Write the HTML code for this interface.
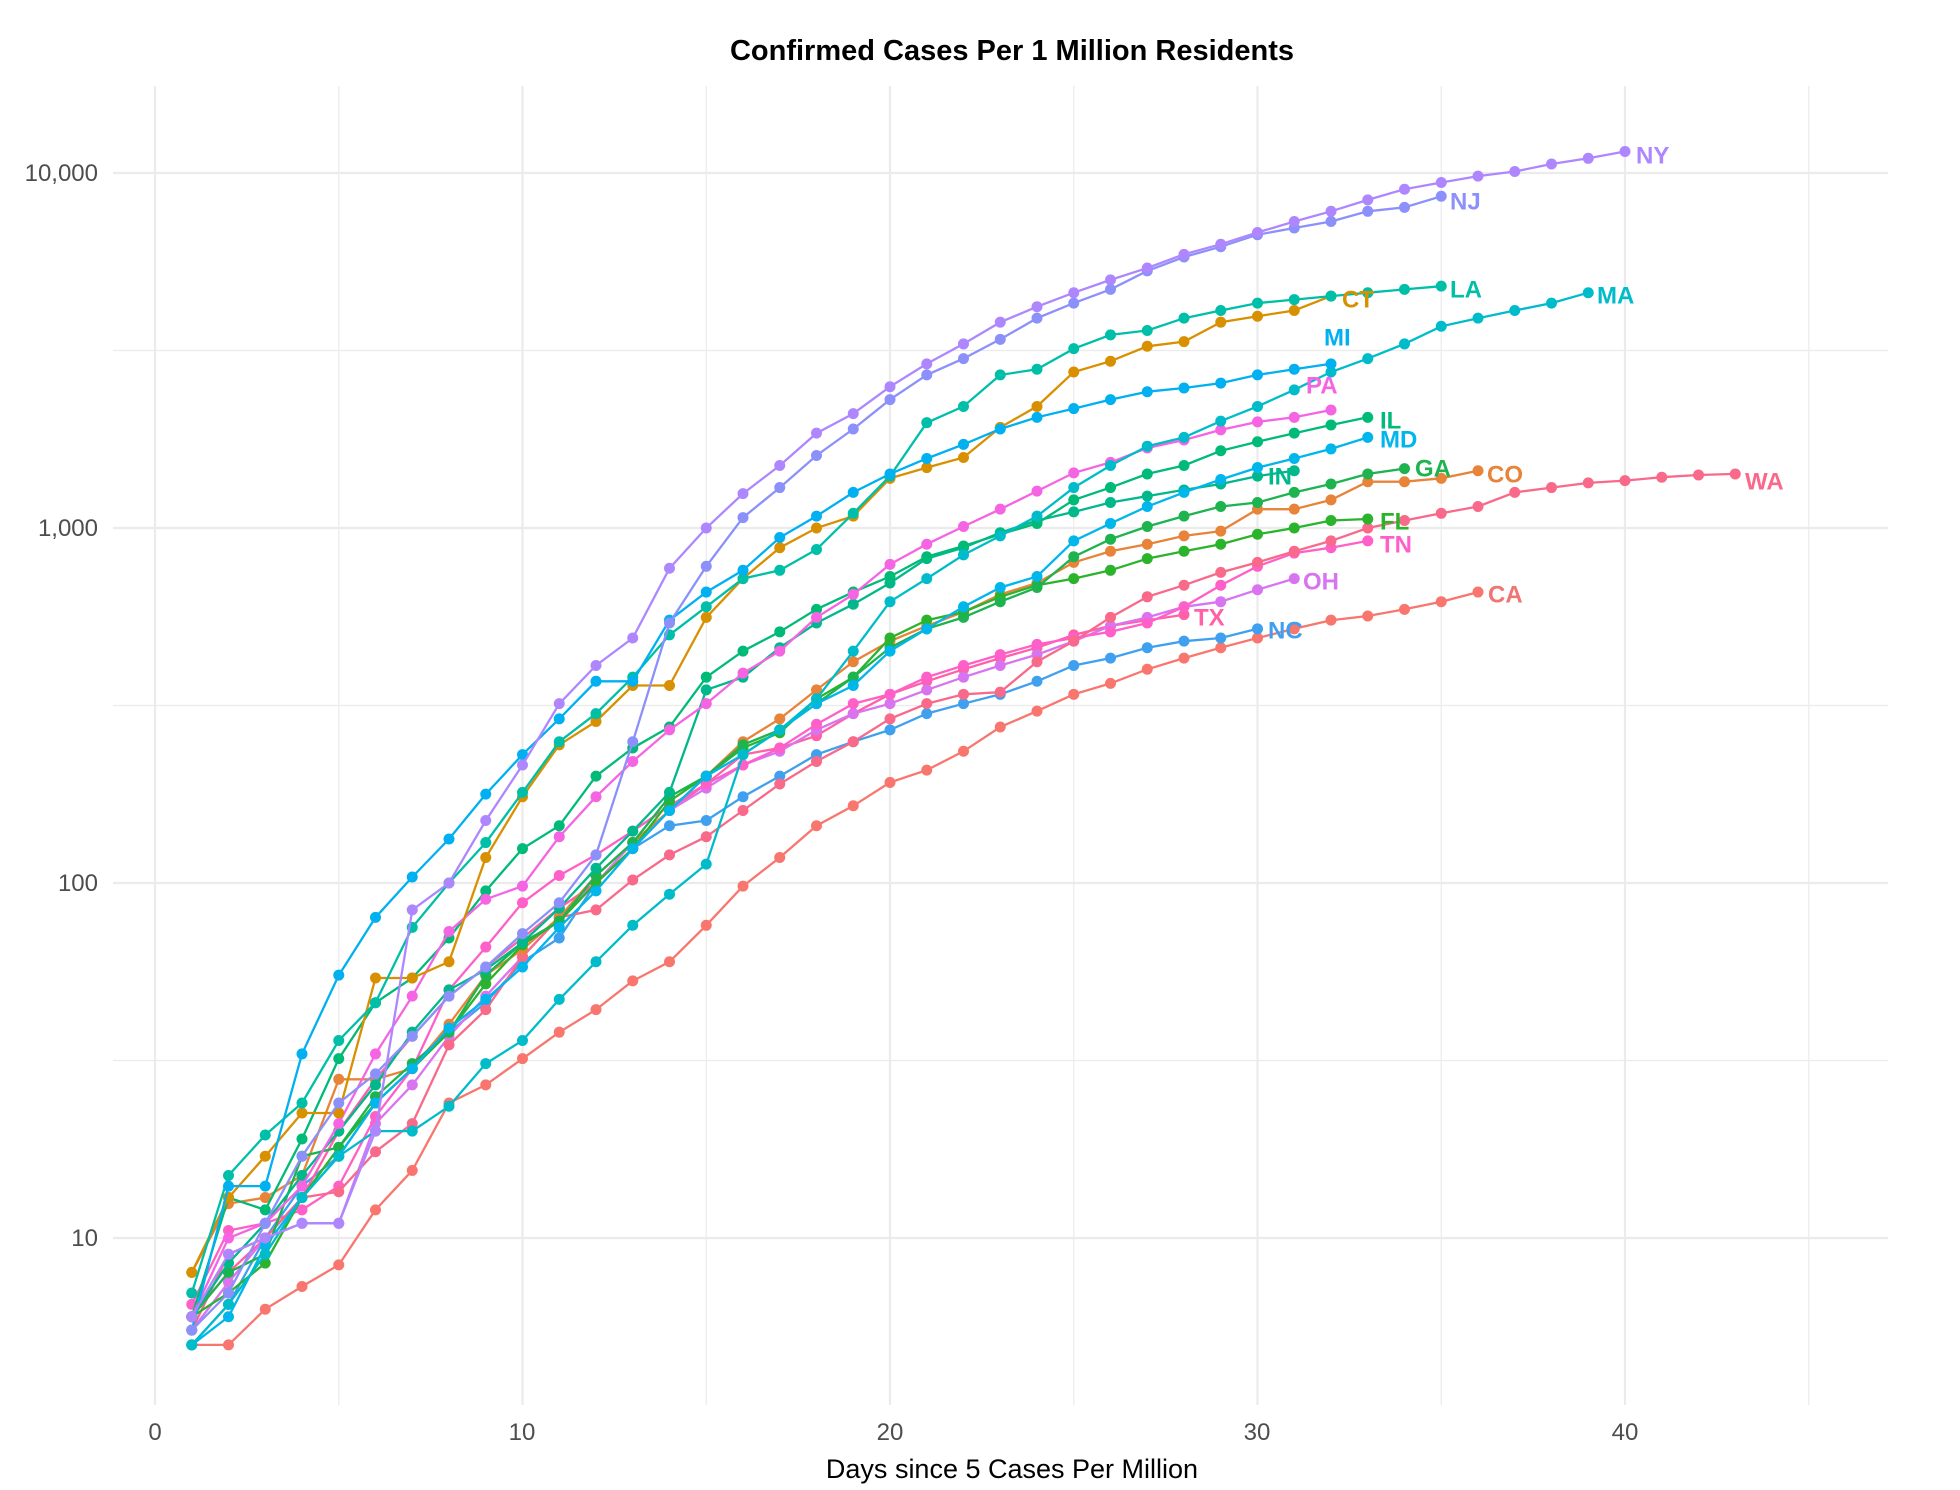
<!DOCTYPE html>
<html><head><meta charset="utf-8"><style>
html,body{margin:0;padding:0;background:#fff;}
svg{display:block;font-family:"Liberation Sans",sans-serif;}
.lab{font-weight:bold;font-size:24px;dominant-baseline:central;}
.tk{font-size:24px;fill:#4d4d4d;}
</style></head><body>
<svg id="s" width="1960" height="1490" viewBox="0 0 1960 1490" xmlns="http://www.w3.org/2000/svg">
<rect width="1960" height="1490" fill="#fff"/>
<g id="grid" stroke="#ebebeb" fill="none"></g>
<g id="series"></g>
<text x="1012" y="60" text-anchor="middle" font-weight="bold" font-size="29" fill="#000">Confirmed Cases Per 1 Million Residents</text>
<text x="1012" y="1478" text-anchor="middle" font-size="27" fill="#000">Days since 5 Cases Per Million</text>
<g class="tk" text-anchor="end">
<text x="98" y="181">10,000</text>
<text x="98" y="536">1,000</text>
<text x="98" y="891">100</text>
<text x="98" y="1246">10</text>
</g>
<g class="tk" text-anchor="middle">
<text x="155" y="1440">0</text>
<text x="522" y="1440">10</text>
<text x="890" y="1440">20</text>
<text x="1257" y="1440">30</text>
<text x="1625" y="1440">40</text>
</g>
<g class="lab">
<text x="1636" y="156" fill="#AE87FF">NY</text>
<text x="1450" y="202" fill="#8C90FA">NJ</text>
<text x="1450" y="290" fill="#00BFA8">LA</text>
<text x="1597" y="296" fill="#00BCCB">MA</text>
<text x="1342" y="300" fill="#D89000">CT</text>
<text x="1324" y="338" fill="#00B0F0">MI</text>
<text x="1306" y="386" fill="#F564E3">PA</text>
<text x="1380" y="421" fill="#00BA78">IL</text>
<text x="1380" y="440" fill="#00B6EB">MD</text>
<text x="1268" y="477" fill="#00B88C">IN</text>
<text x="1415" y="469" fill="#1DB34F">GA</text>
<text x="1487" y="475" fill="#E8843A">CO</text>
<text x="1745" y="482" fill="#F8698A">WA</text>
<text x="1380" y="522" fill="#2CB32C">FL</text>
<text x="1380" y="545" fill="#FF5FC8">TN</text>
<text x="1303" y="582" fill="#D974F0">OH</text>
<text x="1488" y="595" fill="#F07470">CA</text>
<text x="1194" y="618" fill="#FF60A8">TX</text>
<text x="1268" y="631" fill="#3FA0F0">NC</text>
</g>
</svg>
<script>
(function(){
var NS="http://www.w3.org/2000/svg";
function X(d){return 155+36.75*d;}
function Y(v){return 1238-355*Math.log10(v/10);}
var g=document.getElementById('grid');
function ln(x1,y1,x2,y2,w){var l=document.createElementNS(NS,'line');l.setAttribute('x1',x1);l.setAttribute('y1',y1);l.setAttribute('x2',x2);l.setAttribute('y2',y2);l.setAttribute('stroke-width',w);g.appendChild(l);}
for(var d=0;d<=45;d+=5){ln(X(d),86,X(d),1405,d%10==0?2.2:1.2);}
[10,100,1000,10000].forEach(function(v){ln(113,Y(v),1888,Y(v),2.2);});
[31.62,316.2,3162].forEach(function(v){ln(113,Y(v),1888,Y(v),1.2);});
var S=[
["#F8766D",{1:5,2:5,3:6.3,4:7.3,5:8.4,6:12,7:15.5,8:24,9:27,10:32,11:38,12:44,13:53,14:60,15:76,16:98,17:118,18:145,19:165,20:192,21:208,22:235,23:275,24:305,25:340,26:365,27:400,28:430,29:460,30:490,31:520,32:550,33:565,34:590,35:620,36:660}],
["#3FA0F0",{1:5,2:6.5,3:10,4:14,5:17,6:24,7:30,8:38,9:46,10:60,11:70,12:100,13:125,14:145,15:150,16:175,17:200,18:230,19:250,20:270,21:300,22:320,23:340,24:370,25:410,26:430,27:460,28:480,29:490,30:520}],
["#FF60A8",{1:6,2:8,3:10,4:13,5:20,6:28,7:37,8:48,9:58,10:70,11:85,12:100,13:125,14:160,15:190,16:230,17:240,18:260,19:300,20:340,21:370,22:400,23:430,24:460,25:500,26:530,27:550,28:570}],
["#D974F0",{1:5.5,2:7.5,3:10,4:11,5:11,6:21,7:27,8:37,9:48,10:62,11:80,12:100,13:130,14:160,15:185,16:215,17:235,18:270,19:300,20:320,21:350,22:380,23:410,24:440,25:480,26:530,27:560,28:600,29:620,30:670,31:720}],
["#FF5FC8",{1:6.5,2:10.5,3:11,4:12,5:14,6:22,7:30,8:50,9:66,10:88,11:105,12:120,13:140,14:165,15:190,16:215,17:240,18:280,19:320,20:340,21:380,22:410,23:440,24:470,25:490,26:510,27:540,28:600,29:690,30:780,31:850,32:880,33:920}],
["#F8698A",{1:5.5,2:9,3:10,4:13,5:13.5,6:17.5,7:21,8:35,9:44,10:62,11:80,12:84,13:102,14:120,15:135,16:160,17:190,18:220,19:250,20:290,21:320,22:340,23:345,24:420,25:480,26:560,27:640,28:690,29:750,30:800,31:860,32:920,33:1000,34:1050,35:1100,36:1150,37:1260,38:1300,39:1340,40:1360,41:1390,42:1410,43:1420}],
["#E8843A",{1:8,2:12.5,3:13,4:15,5:28,6:28,7:30,8:40,9:55,10:65,11:80,12:105,13:130,14:160,15:200,16:250,17:290,18:350,19:420,20:480,21:530,22:580,23:650,24:700,25:800,26:860,27:900,28:950,29:980,30:1130,31:1130,32:1200,33:1350,34:1350,35:1380,36:1450}],
["#2CB32C",{1:6,2:7,3:8.5,4:13,5:18,6:24,7:30,8:38,9:52,10:67,11:78,12:100,13:125,14:170,15:200,16:240,17:265,18:330,19:380,20:490,21:550,22:580,23:640,24:690,25:720,26:760,27:820,28:860,29:900,30:960,31:1000,32:1050,33:1060}],
["#1DB34F",{1:6,2:8,3:9,4:17,5:18,6:25,7:31,8:38,9:55,10:68,11:78,12:105,13:130,14:175,15:200,16:245,17:270,18:320,19:380,20:460,21:520,22:560,23:620,24:680,25:830,26:930,27:1010,28:1080,29:1150,30:1180,31:1260,32:1330,33:1420,34:1470}],
["#00B88C",{1:6,2:8.5,3:11,4:15,5:20,6:27,7:38,8:50,9:57,10:68,11:85,12:110,13:140,14:180,15:350,16:380,17:460,18:540,19:610,20:700,21:820,22:880,23:970,24:1050,25:1110,26:1180,27:1230,28:1280,29:1330,30:1400,31:1450}],
["#00BA78",{1:6,2:13,3:12,4:19,5:32,6:46,7:54,8:70,9:95,10:125,11:145,12:200,13:240,14:275,15:380,16:450,17:510,18:590,19:660,20:730,21:830,22:890,23:960,24:1030,25:1200,26:1300,27:1420,28:1500,29:1650,30:1750,31:1850,32:1950,33:2050}],
["#00B6EB",{1:5,2:6,3:9.5,4:13,5:17,6:24,7:30,8:39,9:47,10:58,11:75,12:95,13:125,14:160,15:200,16:230,17:270,18:320,19:360,20:450,21:520,22:600,23:680,24:730,25:920,26:1030,27:1150,28:1260,29:1370,30:1480,31:1570,32:1670,33:1800}],
["#F564E3",{1:6,2:10,3:11,4:14,5:21,6:33,7:48,8:73,9:90,10:98,11:135,12:175,13:220,14:270,15:320,16:390,17:450,18:560,19:650,20:790,21:900,22:1010,23:1130,24:1270,25:1430,26:1530,27:1680,28:1770,29:1890,30:1990,31:2050,32:2150}],
["#00BCCB",{1:5,2:6.5,3:9,4:13,5:17,6:20,7:20,8:23.5,9:31,10:36,11:47,12:60,13:76,14:93,15:113,16:230,17:270,18:330,19:450,20:620,21:720,22:840,23:950,24:1080,25:1300,26:1500,27:1700,28:1800,29:2000,30:2200,31:2450,32:2750,33:3000,34:3300,35:3700,36:3900,37:4100,38:4300,39:4600}],
["#D89000",{1:8,2:13,3:17,4:22.5,5:22.5,6:54,7:54,8:60,9:118,10:175,11:245,12:285,13:360,14:360,15:560,16:720,17:880,18:1000,19:1080,20:1380,21:1480,22:1580,23:1920,24:2200,25:2750,26:2950,27:3250,28:3350,29:3800,30:3950,31:4100,32:4500}],
["#00BFA8",{1:7,2:15,3:19.5,4:24,5:36,6:46,7:75,8:100,9:130,10:180,11:250,12:300,13:380,14:500,15:600,16:720,17:760,18:870,19:1100,20:1400,21:1980,22:2200,23:2700,24:2800,25:3200,26:3500,27:3600,28:3900,29:4100,30:4300,31:4400,32:4500,33:4600,34:4700,35:4800}],
["#00B0F0",{1:5.5,2:14,3:14,4:33,5:55,6:80,7:104,8:133,9:178,10:230,11:290,12:370,13:370,14:550,15:660,16:760,17:940,18:1080,19:1260,20:1420,21:1570,22:1720,23:1900,24:2050,25:2170,26:2300,27:2420,28:2480,29:2560,30:2700,31:2800,32:2900}],
["#8C90FA",{1:5.5,2:7,3:11,4:17,5:24,6:29,7:37,8:48,9:58,10:72,11:88,12:120,13:250,14:540,15:780,16:1070,17:1300,18:1600,19:1900,20:2300,21:2700,22:3000,23:3400,24:3900,25:4300,26:4700,27:5300,28:5800,29:6200,30:6700,31:7000,32:7300,33:7800,34:8000,35:8600}],
["#AE87FF",{1:6,2:9,3:10,4:11,5:11,6:20,7:84,8:100,9:150,10:215,11:320,12:410,13:490,14:770,15:1000,16:1250,17:1500,18:1850,19:2100,20:2500,21:2900,22:3300,23:3800,24:4200,25:4600,26:5000,27:5400,28:5900,29:6300,30:6800,31:7300,32:7800,33:8400,34:9000,35:9400,36:9800,37:10100,38:10600,39:11000,40:11500}]
];
var sg=document.getElementById('series');
S.forEach(function(s){
 var c=s[0],o=s[1],ks=Object.keys(o).map(Number).sort(function(a,b){return a-b;});
 var pts=ks.map(function(k){return [X(k),Y(o[k])];});
 var p=document.createElementNS(NS,'polyline');
 p.setAttribute('points',pts.map(function(q){return q[0].toFixed(1)+','+q[1].toFixed(1);}).join(' '));
 p.setAttribute('fill','none');p.setAttribute('stroke',c);p.setAttribute('stroke-width','2.3');
 sg.appendChild(p);
 pts.forEach(function(q){var e=document.createElementNS(NS,'circle');e.setAttribute('cx',q[0]);e.setAttribute('cy',q[1]);e.setAttribute('r','5.5');e.setAttribute('fill',c);sg.appendChild(e);});
});
})();
</script>
</body></html>
